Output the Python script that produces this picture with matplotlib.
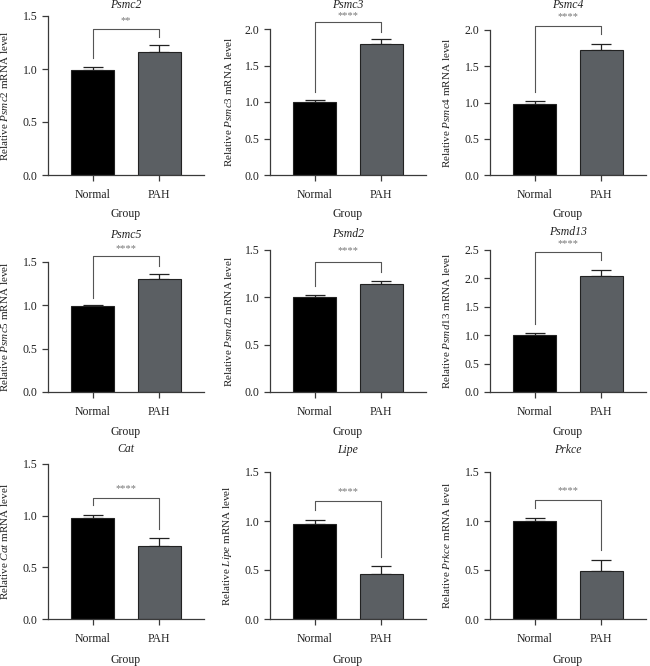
import matplotlib
matplotlib.use("Agg")
import matplotlib.pyplot as plt

# values (mean, upper SEM)
genes = ["Psmc2", "Psmc3", "Psmc4", "Psmc5", "Psmd2", "Psmd13", "Cat", "Lipe", "Prkce"]
groups = ["Normal", "PAH"]
normal_mean = [0.99, 1.00, 0.98, 0.99, 1.00, 1.00, 0.98, 0.97, 1.00]
normal_err = [0.03, 0.03, 0.04, 0.015, 0.02, 0.03, 0.03, 0.04, 0.03]
pah_mean = [1.16, 1.80, 1.72, 1.30, 1.14, 2.04, 0.71, 0.46, 0.49]
pah_err = [0.07, 0.06, 0.09, 0.065, 0.03, 0.11, 0.07, 0.08, 0.11]
signif = ["**", "****", "****", "****", "****", "****", "****", "****", "****"]
y_top = [1.5, 2.0, 2.0, 1.5, 1.5, 2.5, 1.5, 1.5, 1.5]
y_step = [0.5, 0.5, 0.5, 0.5, 0.5, 0.5, 0.5, 0.5, 0.5]
# bracket: bar height, left drop, right drop, star height
bracket_y = [1.38, 2.09, 2.06, 1.565, 1.37, 2.46, 1.17, 1.205, 1.21]
bracket_l = [1.10, 1.14, 1.15, 1.09, 1.12, 1.19, 1.10, 1.11, 1.13]
bracket_r = [1.30, 1.96, 1.94, 1.45, 1.27, 2.32, 0.87, 0.63, 0.70]
star_y = [1.46, 2.19, 2.18, 1.65, 1.49, 2.61, 1.26, 1.30, 1.31]

plt.rcParams["font.family"] = "Liberation Serif"
plt.rcParams["mathtext.fontset"] = "custom"
plt.rcParams["mathtext.rm"] = "Liberation Serif"
plt.rcParams["mathtext.it"] = "Liberation Serif:italic"

W, H = 650, 666
fig = plt.figure(figsize=(W / 100, H / 100), dpi=100)

col_x = [48, 270, 490]
ax_w = 156
# pixel top (at y_top) and bottom (at 0) of each panel
tops = [16, 29, 30, 262, 250, 250, 464, 472, 472]
bottoms = [175, 175, 175, 392, 392, 392, 619, 619, 619]
title_y = [5, 5, 5, 235, 234, 232, 449, 450, 450]
group_y = [214, 214, 214, 432, 432, 432, 660, 660, 660]
ylab_x = [5, 228, 447]

edge = "#3a3a3a"
for i, g in enumerate(genes):
    c = i % 3
    x0 = col_x[c]
    ax = fig.add_axes([x0 / W, 1 - bottoms[i] / H, ax_w / W, (bottoms[i] - tops[i]) / H])
    xs = [0, 1]
    means = [normal_mean[i], pah_mean[i]]
    errs = [normal_err[i], pah_err[i]]
    ax.bar(xs, means, width=0.65, color=["#000000", "#5b5f63"],
           edgecolor="#222222", linewidth=0.8, zorder=2)
    ax.errorbar(xs, means, yerr=[[0, 0], errs], fmt="none", ecolor="#222222",
                elinewidth=0.9, capsize=7.5, capthick=0.9, zorder=1)
    ax.set_xlim(-0.68, 1.68)
    ax.set_ylim(0, y_top[i])
    ticks = [round(k * y_step[i], 2) for k in range(int(round(y_top[i] / y_step[i])) + 1)]
    ax.set_yticks(ticks)
    ax.set_yticklabels([f"{t:.1f}" for t in ticks])
    ax.set_xticks(xs)
    ax.set_xticklabels(groups)
    for s in ["top", "right"]:
        ax.spines[s].set_visible(False)
    for s in ["left", "bottom"]:
        ax.spines[s].set_color(edge)
        ax.spines[s].set_linewidth(0.9)
    ax.tick_params(colors=edge, labelcolor="#222222", labelsize=8.5, width=0.9, length=4)
    ax.tick_params(axis="x", pad=6)

    # significance bracket
    ax.plot([0, 0, 1, 1], [bracket_l[i], bracket_y[i], bracket_y[i], bracket_r[i]],
            color="#555555", lw=0.8, clip_on=False)
    ax.text(0.5, star_y[i], signif[i], ha="center", va="center",
            fontsize=7.5, color="#777777", clip_on=False)

    fig.text((x0 + ax_w / 2) / W, 1 - title_y[i] / H, g, ha="center", va="center",
             fontsize=8.5, style="italic", color="#222222")
    fig.text((x0 + ax_w / 2) / W, 1 - group_y[i] / H, "Group", ha="center", va="center",
             fontsize=8.5, color="#222222")
    fig.text(ylab_x[c] / W, 1 - (tops[i] + bottoms[i]) / 2 / H,
             "Relative $\\mathit{" + g + "}$ mRNA level", rotation=90,
             ha="center", va="center", fontsize=8, color="#222222")

fig.savefig("out.png", dpi=100)
